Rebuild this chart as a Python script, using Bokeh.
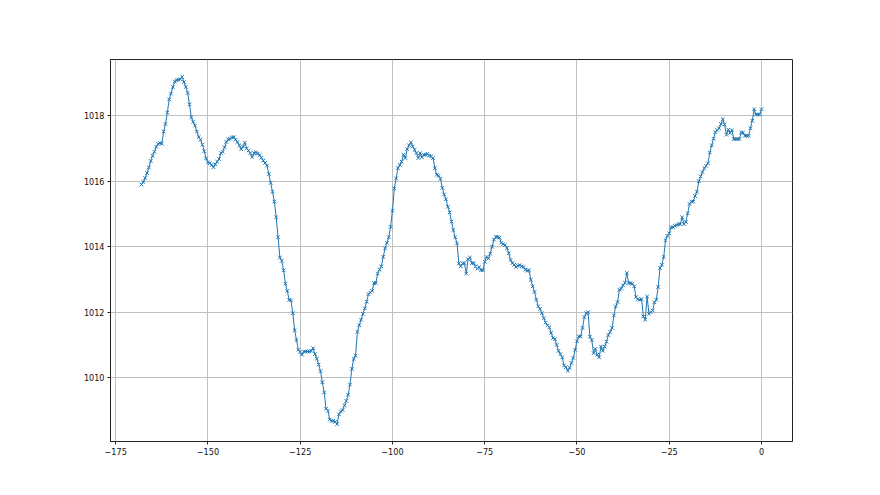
import numpy as np
from bokeh.plotting import figure
from bokeh.models import Range1d, FixedTicker
from bokeh.embed import file_html
from bokeh.resources import INLINE

# Hours before now (half-hour steps) and pressure (hPa)
hours = np.linspace(-168, 0, 337)
pressure = [
    1015.90, 1015.98, 1016.10, 1016.25, 1016.42, 1016.62, 1016.78, 1016.90, 1017.05, 1017.14,
    1017.17, 1017.15, 1017.52, 1017.75, 1018.10, 1018.50, 1018.68, 1018.88, 1019.05, 1019.09,
    1019.10, 1019.12, 1019.19, 1019.03, 1018.88, 1018.70, 1018.35, 1017.95, 1017.82, 1017.70,
    1017.52, 1017.35, 1017.27, 1017.12, 1016.92, 1016.70, 1016.58, 1016.55, 1016.50, 1016.43,
    1016.52, 1016.60, 1016.68, 1016.86, 1016.90, 1017.04, 1017.20, 1017.28, 1017.30, 1017.34,
    1017.35, 1017.27, 1017.20, 1017.10, 1016.98, 1017.06, 1017.18, 1017.00, 1016.94, 1016.86,
    1016.74, 1016.86, 1016.88, 1016.85, 1016.80, 1016.72, 1016.63, 1016.56, 1016.48, 1016.22,
    1015.95, 1015.68, 1015.38, 1014.90, 1014.29, 1013.67, 1013.57, 1013.28, 1012.87, 1012.65,
    1012.38, 1012.36, 1011.97, 1011.45, 1011.15, 1010.85, 1010.78, 1010.70, 1010.80, 1010.80,
    1010.80, 1010.80, 1010.82, 1010.90, 1010.72, 1010.58, 1010.40, 1010.20, 1009.86, 1009.55,
    1009.05, 1008.99, 1008.72, 1008.68, 1008.68, 1008.65, 1008.58, 1008.88, 1008.97, 1009.01,
    1009.15, 1009.29, 1009.48, 1009.79, 1010.27, 1010.57, 1010.67, 1011.40, 1011.60, 1011.77,
    1011.95, 1012.12, 1012.32, 1012.55, 1012.60, 1012.65, 1012.89, 1012.89, 1013.18, 1013.30,
    1013.40, 1013.69, 1013.95, 1014.12, 1014.29, 1014.61, 1015.10, 1015.78, 1016.09, 1016.40,
    1016.50, 1016.60, 1016.81, 1016.71, 1016.98, 1017.10, 1017.19, 1017.06, 1016.96, 1016.86,
    1016.71, 1016.86, 1016.74, 1016.81, 1016.81, 1016.84, 1016.78, 1016.76, 1016.71, 1016.40,
    1016.20, 1016.17, 1016.08, 1015.80, 1015.60, 1015.45, 1015.22, 1015.05, 1014.77, 1014.51,
    1014.29, 1014.10, 1013.49, 1013.40, 1013.49, 1013.50, 1013.18, 1013.62, 1013.67, 1013.50,
    1013.50, 1013.40, 1013.33, 1013.38, 1013.28, 1013.28, 1013.54, 1013.69, 1013.64, 1013.79,
    1014.00, 1014.22, 1014.30, 1014.30, 1014.28, 1014.12, 1014.08, 1014.05, 1013.96, 1013.80,
    1013.60, 1013.50, 1013.45, 1013.38, 1013.42, 1013.44, 1013.40, 1013.38, 1013.30, 1013.27,
    1013.28, 1012.99, 1012.79, 1012.62, 1012.38, 1012.18, 1012.10, 1011.97, 1011.82, 1011.68,
    1011.60, 1011.54, 1011.37, 1011.21, 1011.18, 1011.00, 1010.82, 1010.72, 1010.62, 1010.37,
    1010.32, 1010.21, 1010.30, 1010.45, 1010.60, 1010.85, 1011.11, 1011.26, 1011.26, 1011.52,
    1011.85, 1011.97, 1012.00, 1011.25, 1011.15, 1010.75, 1010.88, 1010.70, 1010.62, 1010.95,
    1010.82, 1010.95, 1011.10, 1011.30, 1011.40, 1011.52, 1011.90, 1012.18, 1012.31, 1012.69,
    1012.72, 1012.82, 1012.90, 1013.20, 1012.89, 1012.89, 1012.87, 1012.79, 1012.46, 1012.40,
    1012.38, 1012.40, 1011.87, 1011.77, 1012.48, 1011.95, 1012.00, 1012.05, 1012.30, 1012.38,
    1012.77, 1013.35, 1013.45, 1013.69, 1014.20, 1014.33, 1014.41, 1014.59, 1014.60, 1014.64,
    1014.66, 1014.69, 1014.69, 1014.90, 1014.69, 1014.76, 1015.02, 1015.31, 1015.38, 1015.38,
    1015.55, 1015.68, 1016.00, 1016.15, 1016.28, 1016.40, 1016.47, 1016.55, 1016.88, 1017.10,
    1017.30, 1017.50, 1017.57, 1017.62, 1017.75, 1017.90, 1017.73, 1017.42, 1017.58, 1017.48,
    1017.56, 1017.29, 1017.29, 1017.29, 1017.29, 1017.49, 1017.49, 1017.39, 1017.39, 1017.39,
    1017.62, 1017.85, 1018.20, 1018.04, 1018.04, 1018.04, 1018.20,
]

x_ticks = [-175, -150, -125, -100, -75, -50, -25, 0]
x_tick_labels = ["\u2212175", "\u2212150", "\u2212125", "\u2212100", "\u221275", "\u221250", "\u221225", "0"]
y_ticks = [1010, 1012, 1014, 1016, 1018]
y_tick_labels = ["1010", "1012", "1014", "1016", "1018"]

xmin, xmax = min(hours), max(hours)
ymin, ymax = min(pressure), max(pressure)
xpad = (xmax - xmin) * 0.05
ypad = (ymax - ymin) * 0.05

p = figure(width=872, height=487, output_backend="svg", toolbar_location=None,
           x_range=Range1d(xmin - xpad, xmax + xpad),
           y_range=Range1d(ymin - ypad, ymax + ypad),
           min_border_left=110, min_border_right=80, min_border_top=59, min_border_bottom=46)

p.background_fill_color = "white"
p.border_fill_color = "white"
p.outline_line_color = "#222222"
p.outline_line_width = 1

color = "#1f77b4"
p.line(hours, pressure, line_color=color, line_width=1)
p.scatter(hours, pressure, marker="x", size=5, line_color=color, line_width=1)

font = "'Liberation Sans Narrow', 'DejaVu Sans Condensed', 'DejaVu Sans'"
for ax in (p.xaxis[0], p.yaxis[0]):
    ax.axis_line_color = "#222222"
    ax.major_tick_line_color = "#222222"
    ax.minor_tick_line_color = None
    ax.major_tick_out = 3
    ax.major_tick_in = 0
    ax.major_label_text_font = font
    ax.major_label_text_font_size = "9px"
    ax.major_label_text_color = "#111111"
    ax.major_label_standoff = 3

p.xaxis[0].ticker = FixedTicker(ticks=x_ticks)
p.xaxis[0].major_label_overrides = dict(zip(x_ticks, x_tick_labels))
p.yaxis[0].ticker = FixedTicker(ticks=y_ticks)
p.yaxis[0].major_label_overrides = dict(zip(y_ticks, y_tick_labels))

p.xgrid.grid_line_color = "#c0c0c0"
p.ygrid.grid_line_color = "#c0c0c0"
p.xgrid.grid_line_width = 1
p.ygrid.grid_line_width = 1

open("out.html", "w").write(file_html(p, INLINE))
